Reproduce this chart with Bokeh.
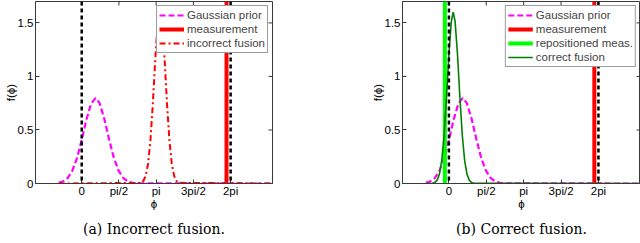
import math
from bokeh.plotting import figure
from bokeh.models import Span, FixedTicker, Title, Range1d
from bokeh.layouts import row
from bokeh.embed import file_html
from bokeh.resources import INLINE

PI = math.pi

# ---------------- data ----------------
x_ticks = [0, PI / 2, PI, 3 * PI / 2, 2 * PI]
x_tick_labels = ["0", "pi/2", "pi", "3pi/2", "2pi"]
y_ticks = [0, 0.5, 1, 1.5]
y_tick_labels = ["0", "0.5", "1", "1.5"]
x_lim = [-1.95, 8.05]
y_lim = [0, 1.7]
wrap_bounds = [0, 2 * PI]          # black dashed lines
measurement = 6.11                 # red measurement (rad)
repositioned = -0.17               # green repositioned measurement (rad)

prior_x = [-0.97, -0.8, -0.6, -0.4, -0.2, 0.0, 0.2, 0.4, 0.58, 0.75, 0.95,
           1.15, 1.35, 1.55, 1.75, 1.95, 2.15, 2.4, 8.05]
prior_y = [0.007, 0.018, 0.049, 0.117, 0.236, 0.407, 0.598, 0.748, 0.798,
           0.753, 0.607, 0.417, 0.244, 0.122, 0.052, 0.019, 0.006, 0.001, 0.0]

wrong_x = [-0.97, 2.5, 2.6, 2.7, 2.8, 2.9, 3.0, 3.1, 3.2, 3.3, 3.4, 3.5,
           3.6, 3.7, 3.8, 3.9, 4.0, 4.1, 8.05]
wrong_y = [0.0, 0.006, 0.023, 0.071, 0.185, 0.404, 0.742, 1.145, 1.486,
           1.62, 1.486, 1.145, 0.742, 0.404, 0.185, 0.071, 0.023, 0.006, 0.0]

right_x = [-0.97, -0.7, -0.6, -0.5, -0.4, -0.3, -0.2, -0.1, 0.0, 0.1, 0.18,
           0.26, 0.36, 0.46, 0.56, 0.66, 0.76, 0.86, 0.96, 1.06, 8.05]
right_y = [0.0, 0.002, 0.008, 0.029, 0.086, 0.217, 0.457, 0.810, 1.208,
           1.513, 1.6, 1.513, 1.208, 0.810, 0.457, 0.217, 0.086, 0.029,
           0.008, 0.002, 0.0]

captions = ["(a) Incorrect fusion.", "(b) Correct fusion."]

# ---------------- styling ----------------
AXC = "#3a3a3a"
SANS = "Liberation Sans"
FS = "11.5px"
MAGENTA = "#ff00ff"
RED = "#ff0000"
LIME = "#00ff00"
DGREEN = "#008000"


def make_fig(width, border_left, border_right, caption):
    p = figure(width=width, height=243, output_backend="svg", toolbar_location=None,
               x_range=Range1d(*x_lim), y_range=Range1d(*y_lim),
               min_border_left=border_left, min_border_right=border_right,
               min_border_top=1, min_border_bottom=58)
    p.grid.visible = False
    p.outline_line_color = AXC
    p.background_fill_color = "white"
    p.border_fill_color = "white"

    xa = p.xaxis[0]
    xa.ticker = FixedTicker(ticks=x_ticks)
    xa.major_label_overrides = {t: l for t, l in zip(x_ticks, x_tick_labels)}
    xa.axis_label = "\u03d5"
    xa.major_label_standoff = 1
    xa.axis_label_standoff = -2
    ya = p.yaxis[0]
    ya.ticker = FixedTicker(ticks=y_ticks)
    ya.major_label_standoff = 2
    ya.major_label_overrides = {t: l for t, l in zip(y_ticks, y_tick_labels)}
    ya.axis_label = "f(\u03d5)"
    ya.axis_label_standoff = -2
    for ax in (xa, ya):
        ax.major_tick_in = 4
        ax.major_tick_out = 0
        ax.minor_tick_line_color = None
        ax.axis_line_color = AXC
        ax.major_tick_line_color = AXC
        ax.major_label_text_font = SANS
        ax.major_label_text_font_size = FS
        ax.major_label_text_color = "black"
        ax.axis_label_text_font = SANS
        ax.axis_label_text_font_size = FS
        ax.axis_label_text_font_style = "normal"
        ax.axis_label_text_color = "black"

    # inward ticks on the top and right edges of the box
    p.scatter(x_ticks, [y_lim[1]] * len(x_ticks), marker="dash", angle=PI / 2,
              size=8, line_color=AXC, line_width=1)
    p.scatter([x_lim[1]] * len(y_ticks), y_ticks, marker="dash",
              size=8, line_color=AXC, line_width=1)

    p.add_layout(Title(text=caption, align="center", offset=-17, standoff=13,
                       text_font="DejaVu Serif", text_font_size="14px",
                       text_font_style="normal", text_color="black"), "below")

    for b in wrap_bounds:
        p.add_layout(Span(location=b, dimension="height", line_color="black",
                          line_width=2.5, line_dash="4 3"))
    return p


def style_legend(p):
    lg = p.legend[0]
    lg.location = "top_right"
    lg.margin = 4
    lg.padding = 2
    lg.spacing = 0
    lg.glyph_width = 25
    lg.glyph_height = 14
    lg.label_height = 14
    lg.label_standoff = 3
    lg.label_text_font = SANS
    lg.label_text_font_size = FS
    lg.border_line_color = AXC
    lg.border_line_width = 1
    lg.background_fill_alpha = 1


p1 = make_fig(320, 35, 48, captions[0])
p1.line(prior_x, prior_y, color=MAGENTA, line_width=2.2, line_dash="6 3",
        legend_label="Gaussian prior")
p1.line([measurement, measurement], y_lim, color=RED, line_width=4,
        legend_label="measurement")
p1.line(wrong_x, wrong_y, color=RED, line_width=2, line_dash="6 3 2 3",
        legend_label="incorrect fusion")
style_legend(p1)

p2 = make_fig(320, 82, 0, captions[1])
p2.line(prior_x, prior_y, color=MAGENTA, line_width=2.2, line_dash="6 3",
        legend_label="Gaussian prior")
p2.line([measurement, measurement], y_lim, color=RED, line_width=4,
        legend_label="measurement")
p2.line([repositioned, repositioned], y_lim, color=LIME, line_width=4,
        legend_label="repositioned meas.")
p2.line(right_x, right_y, color=DGREEN, line_width=1.6,
        legend_label="correct fusion")
style_legend(p2)

layout = row(p1, p2)

open("out.html", "w").write(file_html(layout, INLINE))
